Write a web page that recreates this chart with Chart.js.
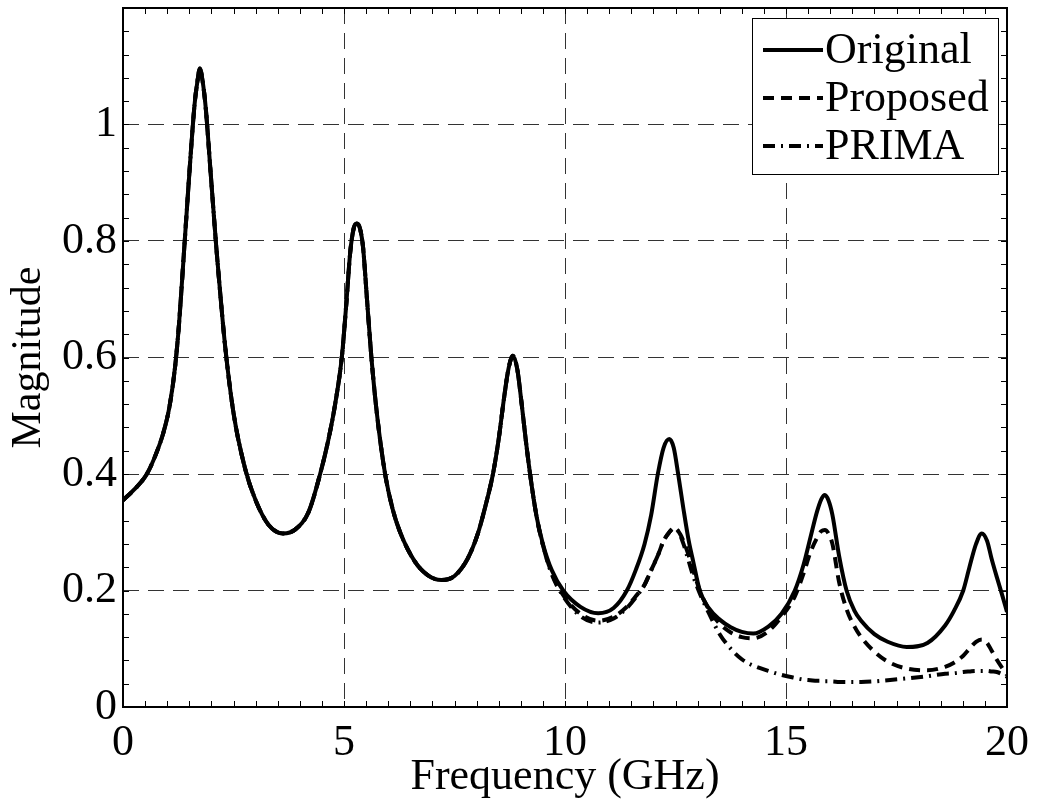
<!DOCTYPE html>
<html lang="en">
<head>
    <meta charset="UTF-8">
    <title>Magnitude vs Frequency</title>
    <style>
        body {
            margin: 0;
            background: #fff;
        }
        #wrap {
            width: 1037px;
            height: 804px;
        }
    </style>
</head>
<body>
    <div id="wrap"><canvas id="chart" width="1037" height="804"></canvas></div>

    <script src="https://cdn.jsdelivr.net/npm/chart.js"></script>
    <script>
        // Data (frequency in GHz, magnitude)
        const freq = [
            0, 0.25, 0.54, 0.75, 0.91, 1.05, 1.18, 1.27, 1.37, 1.5, 1.62, 1.68, 1.74, 1.8, 1.87, 1.98, 2.11, 2.2, 2.31, 2.5, 2.76, 3.0,
            3.3, 3.62, 3.9, 4.2, 4.46, 4.65, 4.8, 4.95, 5.05, 5.14, 5.22, 5.29, 5.36, 5.43, 5.52, 5.62, 5.75, 5.93, 6.1, 6.27,
            6.6, 6.9, 7.2, 7.5, 7.8, 8.03, 8.2, 8.37, 8.5, 8.62, 8.72, 8.82, 8.92, 9.02, 9.11, 9.21, 9.35, 9.5, 9.7, 9.96,
            10.35, 10.75, 11.1, 11.4, 11.6, 11.8, 11.95, 12.1, 12.23, 12.36, 12.46, 12.56, 12.68, 12.8, 12.9, 13.05, 13.25, 13.5, 13.75,
            14.0, 14.26, 14.6, 14.9, 15.2, 15.4, 15.55, 15.7, 15.8, 15.88, 15.96, 16.05, 16.2, 16.37, 16.55, 16.7, 17.0, 17.3, 17.73,
            18.2, 18.6, 18.8, 19.01, 19.15, 19.3, 19.43, 19.55, 19.65, 19.77, 19.9, 20
        ];

        const original = [
            0.355, 0.373, 0.40, 0.435, 0.47, 0.515, 0.585, 0.66, 0.77, 0.915, 1.035, 1.072, 1.096, 1.075, 1.03, 0.92, 0.79, 0.71, 0.62, 0.505, 0.41, 0.355,
            0.312, 0.298, 0.305, 0.335, 0.40, 0.46, 0.52, 0.60, 0.69, 0.78, 0.822, 0.83, 0.822, 0.79, 0.70, 0.60, 0.50, 0.40, 0.34, 0.30,
            0.25, 0.226, 0.218, 0.225, 0.255, 0.298, 0.345, 0.40, 0.46, 0.53, 0.58, 0.603, 0.58, 0.52, 0.46, 0.40, 0.33, 0.28, 0.235, 0.20,
            0.172, 0.161, 0.17, 0.20, 0.235, 0.28, 0.33, 0.40, 0.445, 0.46, 0.445, 0.40, 0.34, 0.285, 0.25, 0.20, 0.17, 0.15, 0.137,
            0.129, 0.126, 0.138, 0.16, 0.20, 0.245, 0.29, 0.335, 0.357, 0.364, 0.355, 0.33, 0.26, 0.20, 0.165, 0.148, 0.125, 0.112, 0.103,
            0.11, 0.14, 0.165, 0.20, 0.24, 0.28, 0.298, 0.285, 0.255, 0.223, 0.19, 0.163
        ];

        const proposed = [
            0.355, 0.373, 0.40, 0.435, 0.47, 0.515, 0.585, 0.66, 0.77, 0.915, 1.035, 1.072, 1.096, 1.075, 1.03, 0.92, 0.79, 0.71, 0.62, 0.505, 0.41, 0.355,
            0.312, 0.298, 0.305, 0.335, 0.40, 0.46, 0.52, 0.60, 0.69, 0.78, 0.822, 0.83, 0.822, 0.79, 0.70, 0.60, 0.50, 0.40, 0.34, 0.30,
            0.25, 0.226, 0.218, 0.225, 0.255, 0.298, 0.345, 0.40, 0.46, 0.53, 0.58, 0.603, 0.58, 0.52, 0.46, 0.40, 0.33, 0.278, 0.23, 0.192,
            0.16, 0.148, 0.155, 0.172, 0.19, 0.21, 0.235, 0.26, 0.285, 0.30, 0.307, 0.302, 0.285, 0.26, 0.235, 0.20, 0.168, 0.143, 0.128,
            0.12, 0.118, 0.13, 0.155, 0.19, 0.23, 0.265, 0.29, 0.302, 0.304, 0.298, 0.28, 0.215, 0.168, 0.138, 0.12, 0.095, 0.078, 0.066,
            0.063, 0.069, 0.076, 0.088, 0.10, 0.112, 0.116, 0.11, 0.097, 0.081, 0.066, 0.055
        ];

        const prima = [
            0.355, 0.373, 0.40, 0.435, 0.47, 0.515, 0.585, 0.66, 0.77, 0.915, 1.035, 1.072, 1.096, 1.075, 1.03, 0.92, 0.79, 0.71, 0.62, 0.505, 0.41, 0.355,
            0.312, 0.298, 0.305, 0.335, 0.40, 0.46, 0.52, 0.60, 0.69, 0.78, 0.822, 0.83, 0.822, 0.79, 0.70, 0.60, 0.50, 0.40, 0.34, 0.30,
            0.25, 0.226, 0.218, 0.225, 0.255, 0.298, 0.345, 0.40, 0.46, 0.53, 0.58, 0.603, 0.58, 0.52, 0.46, 0.40, 0.33, 0.278, 0.228, 0.19,
            0.156, 0.145, 0.152, 0.17, 0.188, 0.21, 0.235, 0.26, 0.285, 0.30, 0.307, 0.302, 0.28, 0.25, 0.225, 0.195, 0.162, 0.125, 0.10,
            0.082, 0.071, 0.062, 0.055, 0.05, 0.047, 0.046, 0.045, 0.045, 0.044, 0.044, 0.044, 0.043, 0.043, 0.043, 0.043, 0.044, 0.046, 0.049,
            0.053, 0.057, 0.058, 0.06, 0.061, 0.062, 0.062, 0.062, 0.061, 0.06, 0.056, 0.052
        ];

        const seriesNames = ['Original', 'Proposed', 'PRIMA'];
        const xTicks = [0, 5, 10, 15, 20];
        const yTicks = [0, 0.2, 0.4, 0.6, 0.8, 1];

        const FONT = '"Liberation Serif", "Times New Roman", serif';

        function pairs(ys) {
            return freq.map((f, i) => ({ x: f, y: ys[i] }));
        }

        // frame, inward minor ticks, and the boxed legend inside the plot
        const decorations = {
            id: 'decorations',
            beforeDatasetsDraw(chart) {
                const { ctx, chartArea: a, scales: { x, y } } = chart;
                ctx.save();
                ctx.strokeStyle = '#000';
                ctx.lineWidth = 1;
                ctx.beginPath();
                for (let v = 0.5; v < 20; v += 0.5) {
                    const px = Math.round(x.getPixelForValue(v)) + 0.5;
                    ctx.moveTo(px, a.bottom); ctx.lineTo(px, a.bottom - 6);
                    ctx.moveTo(px, a.top); ctx.lineTo(px, a.top + 6);
                }
                for (let k = 1; k < 30; k++) {
                    const py = Math.round(y.getPixelForValue(k * 0.04)) + 0.5;
                    ctx.moveTo(a.left, py); ctx.lineTo(a.left + 6, py);
                    ctx.moveTo(a.right, py); ctx.lineTo(a.right - 6, py);
                }
                ctx.stroke();
                ctx.restore();
            },
            afterDatasetsDraw(chart) {
                const { ctx, chartArea: a } = chart;
                ctx.save();
                ctx.strokeStyle = '#000';
                ctx.lineWidth = 2;
                ctx.strokeRect(a.left, a.top, a.right - a.left, a.bottom - a.top);

                // legend box
                const bx = a.right - 255, by = a.top + 10, bw = 246, bh = 156;
                ctx.fillStyle = '#fff';
                ctx.fillRect(bx, by, bw, bh);
                ctx.lineWidth = 1;
                ctx.strokeRect(bx + 0.5, by + 0.5, bw, bh);

                ctx.font = '44px ' + FONT;
                ctx.textBaseline = 'alphabetic';
                ctx.textAlign = 'left';
                chart.data.datasets.forEach((ds, i) => {
                    const base = by + 45 + i * 48;
                    const ly = base - 13;
                    ctx.save();
                    ctx.strokeStyle = ds.borderColor;
                    ctx.lineWidth = ds.borderWidth;
                    ctx.setLineDash(ds.borderDash || []);
                    ctx.beginPath();
                    ctx.moveTo(bx + 11, ly);
                    ctx.lineTo(bx + 71, ly);
                    ctx.stroke();
                    ctx.restore();
                    ctx.fillStyle = '#000';
                    ctx.fillText(ds.label, bx + 73, base);
                });
                ctx.restore();
            }
        };

        const ctx = document.getElementById('chart').getContext('2d');
        new Chart(ctx, {
            type: 'line',
            data: {
                datasets: [
                    {
                        label: seriesNames[0],
                        data: pairs(original),
                        borderColor: '#000',
                        borderWidth: 4,
                        borderDash: []
                    },
                    {
                        label: seriesNames[1],
                        data: pairs(proposed),
                        borderColor: '#000',
                        borderWidth: 4,
                        borderDash: [11, 7]
                    },
                    {
                        label: seriesNames[2],
                        data: pairs(prima),
                        borderColor: '#000',
                        borderWidth: 4,
                        borderDash: [12, 6, 2, 6]
                    }
                ]
            },
            options: {
                responsive: false,
                animation: false,
                devicePixelRatio: 1,
                layout: { padding: { left: 0, right: 30, top: 8, bottom: 0 } },
                elements: {
                    point: { radius: 0 },
                    line: { cubicInterpolationMode: 'monotone', fill: false, borderCapStyle: 'butt' }
                },
                plugins: {
                    legend: { display: false },
                    tooltip: { enabled: false }
                },
                scales: {
                    x: {
                        type: 'linear',
                        min: 0,
                        max: 20,
                        afterFit(s) {
                            s.height = 97;
                            s.paddingLeft = 0;
                            s.paddingRight = 0;
                        },
                        afterBuildTicks(s) { s.ticks = xTicks.map(v => ({ value: v })); },
                        ticks: {
                            color: '#000',
                            padding: 10,
                            font: { family: FONT, size: 44 },
                            maxRotation: 0,
                            callback: v => String(v)
                        },
                        grid: {
                            color: '#333',
                            lineWidth: 1,
                            drawTicks: false
                        },
                        border: { display: false, dash: [16, 9] },
                        title: {
                            display: true,
                            text: 'Frequency (GHz)',
                            color: '#000',
                            font: { family: FONT, size: 44 },
                            padding: { top: 0, bottom: 0 }
                        }
                    },
                    y: {
                        type: 'linear',
                        min: 0,
                        max: 1.2,
                        afterFit(s) {
                            s.width = 123;
                            s.paddingTop = 0;
                            s.paddingBottom = 0;
                        },
                        afterBuildTicks(s) { s.ticks = yTicks.concat([1.2]).map(v => ({ value: v })); },
                        ticks: {
                            color: '#000',
                            padding: 6,
                            font: { family: FONT, size: 44 },
                            callback: v => (v > 1.1 ? '' : String(Math.round(v * 10) / 10))
                        },
                        grid: {
                            color: '#333',
                            lineWidth: 1,
                            drawTicks: false
                        },
                        border: { display: false, dash: [16, 9] },
                        title: {
                            display: true,
                            text: 'Magnitude',
                            color: '#000',
                            font: { family: FONT, size: 42 },
                            padding: { top: 4, bottom: 0 }
                        }
                    }
                }
            },
            plugins: [decorations]
        });
    </script>
</body>
</html>
